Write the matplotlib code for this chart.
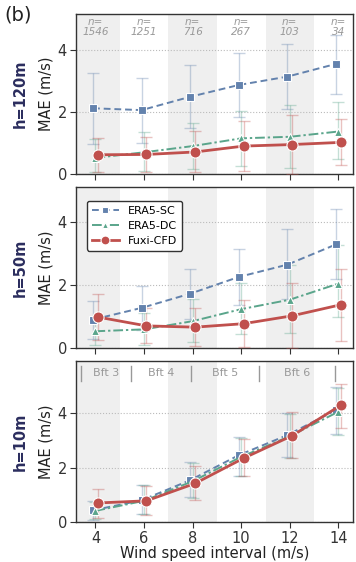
import matplotlib
matplotlib.use("Agg")
import matplotlib.pyplot as plt
import numpy as np

plt.rcParams["font.family"] = ["DejaVu Sans"]

x = [4, 6, 8, 10, 12, 14]
xticklabels = ["4", "6", "8", "10", "12", "14"]
counts = ["1546", "1251", "716", "267", "103", "34"]
heights = ["h=120m", "h=50m", "h=10m"]
series_names = ["ERA5-SC", "ERA5-DC", "Fuxi-CFD"]

# h=120m
sc_120 = [2.12, 2.06, 2.49, 2.87, 3.14, 3.55]
sc_120_lo = [0.97, 0.99, 1.47, 1.85, 2.09, 2.58]
sc_120_hi = [3.25, 3.11, 3.53, 3.91, 4.20, 4.49]
dc_120 = [0.52, 0.70, 0.90, 1.15, 1.20, 1.37]
dc_120_lo = [0.08, 0.10, 0.15, 0.27, 0.20, 0.47]
dc_120_hi = [1.12, 1.34, 1.66, 2.03, 2.23, 2.33]
fx_120 = [0.62, 0.63, 0.71, 0.90, 0.95, 1.02]
fx_120_lo = [0.08, 0.08, 0.05, 0.10, 0.00, 0.28]
fx_120_hi = [1.16, 1.20, 1.40, 1.70, 1.91, 1.77]

# h=50m
sc_50 = [0.90, 1.27, 1.72, 2.25, 2.64, 3.28]
sc_50_lo = [0.30, 0.56, 0.93, 1.35, 1.55, 2.17]
sc_50_hi = [1.49, 1.97, 2.50, 3.13, 3.76, 4.40]
dc_50 = [0.53, 0.59, 0.85, 1.23, 1.53, 2.04]
dc_50_lo = [0.08, 0.10, 0.20, 0.45, 0.47, 0.98]
dc_50_hi = [0.98, 1.10, 1.55, 2.07, 2.62, 3.26]
fx_50 = [0.98, 0.70, 0.66, 0.77, 1.02, 1.37]
fx_50_lo = [0.26, 0.16, 0.05, 0.03, 0.00, 0.23]
fx_50_hi = [1.71, 1.28, 1.28, 1.51, 2.06, 2.50]

# h=10m
sc_10 = [0.43, 0.80, 1.54, 2.46, 3.20, 4.12]
sc_10_lo = [0.09, 0.31, 0.92, 1.70, 2.38, 3.24]
sc_10_hi = [0.78, 1.38, 2.21, 3.14, 4.00, 4.98]
dc_10 = [0.41, 0.78, 1.50, 2.40, 3.16, 4.06]
dc_10_lo = [0.10, 0.30, 0.90, 1.70, 2.37, 3.20]
dc_10_hi = [0.72, 1.36, 2.18, 3.10, 3.97, 4.95]
fx_10 = [0.70, 0.78, 1.42, 2.35, 3.18, 4.30]
fx_10_lo = [0.16, 0.25, 0.82, 1.69, 2.34, 3.45]
fx_10_hi = [1.23, 1.33, 2.05, 3.04, 4.04, 5.10]

bft_labels = ["Bft 3", "Bft 4", "Bft 5", "Bft 6"]
bft_edges = [3.4, 5.45, 7.95, 10.75, 13.85]

panels = [
    (sc_120, sc_120_lo, sc_120_hi, dc_120, dc_120_lo, dc_120_hi, fx_120, fx_120_lo, fx_120_hi),
    (sc_50, sc_50_lo, sc_50_hi, dc_50, dc_50_lo, dc_50_hi, fx_50, fx_50_lo, fx_50_hi),
    (sc_10, sc_10_lo, sc_10_hi, dc_10, dc_10_lo, dc_10_hi, fx_10, fx_10_lo, fx_10_hi),
]
ylims = [5.16, 5.1, 5.93]

c_sc = "#6382ad"
c_dc = "#5aa58b"
c_fx = "#c0504d"

fig = plt.figure(figsize=(3.56, 5.62), dpi=100)
rects = [
    [0.2135, 0.6904, 0.778, 0.2847],
    [0.2135, 0.3808, 0.778, 0.2865],
    [0.2135, 0.0712, 0.778, 0.2865],
]

for i, (rect, data) in enumerate(zip(rects, panels)):
    ax = fig.add_axes(rect)
    sc, sclo, schi, dc, dclo, dchi, fx, fxlo, fxhi = data
    xa = np.array(x, dtype=float)
    for a, b in [(3, 5), (7, 9), (11, 13)]:
        ax.axvspan(a, b, color="#efefef", zorder=0, lw=0)
    ax.set_xlim(3.2, 14.6)
    ax.set_ylim(0, ylims[i])
    ax.set_yticks([0, 2, 4])
    ax.set_xticks(x)
    ax.yaxis.grid(True, linestyle=":", color="#bbbbbb", lw=0.8, zorder=0.5)
    ax.set_axisbelow(True)

    specs = [
        (xa - 0.1, sc, sclo, schi, c_sc, (0, (3.5, 2)), "s", 5.5, 1.4, series_names[0]),
        (xa, dc, dclo, dchi, c_dc, (0, (5, 1.5, 1.2, 1.5)), "^", 6, 1.4, series_names[1]),
        (xa + 0.1, fx, fxlo, fxhi, c_fx, "-", "o", 8, 2.0, series_names[2]),
    ]
    for k, (xx, y, lo, hi, c, ls, m, ms, lw, name) in enumerate(specs):
        y = np.array(y); lo = np.array(lo); hi = np.array(hi)
        ax.errorbar(xx, y, yerr=[y - lo, hi - y], fmt="none", ecolor=c,
                    alpha=0.35, elinewidth=1.0, capsize=4, capthick=1.0, zorder=2 + k)
        ax.plot(xx, y, color=c, linestyle=ls, marker=m, markersize=ms, lw=lw,
                markeredgecolor="white", markeredgewidth=0.8, label=name, zorder=5 + k)

    for s in ax.spines.values():
        s.set_color("#333333")
        s.set_linewidth(1.0)
    ax.tick_params(axis="both", labelsize=10.5, colors="#333333", length=4, width=0.8, pad=2.5)
    if i < 2:
        ax.set_xticklabels([])
    else:
        ax.set_xticklabels(xticklabels)
        ax.set_xlabel("Wind speed interval (m/s)", fontsize=10.5, labelpad=0, color="#222222")
    ax.set_ylabel("MAE (m/s)", fontsize=10.5, labelpad=3, color="#222222")
    fig.text(0.058, rect[1] + rect[3] / 2, heights[i], rotation=90, ha="center", va="center",
             fontsize=10.5, fontweight="bold", color="#2b2d5e")

    if i == 0:
        for xv, n in zip(x, counts):
            ax.text(xv, 5.07, "n=\n" + n, ha="center", va="top", fontsize=7.5,
                    style="italic", color="#999999", linespacing=1.0)
    if i == 1:
        leg = ax.legend(loc="upper left", fontsize=8, frameon=True, fancybox=True,
                        edgecolor="#333333", framealpha=1.0, handlelength=2.4,
                        markerscale=0.8, borderpad=0.45, labelspacing=0.45,
                        bbox_to_anchor=(0.02, 0.95))
        leg.get_frame().set_linewidth(1.0)
    if i == 2:
        for e in bft_edges:
            ax.plot([e, e], [5.2, 5.75], color="#999999", lw=1.0, zorder=3)
        for j, lab in enumerate(bft_labels):
            ax.text((bft_edges[j] + bft_edges[j + 1]) / 2, 5.47, lab, ha="center", va="center",
                    fontsize=8, color="#999999")

fig.text(0.05, 0.973, "(b)", fontsize=14, ha="center", va="center", color="#222222")

fig.savefig("out.png", dpi=100)
